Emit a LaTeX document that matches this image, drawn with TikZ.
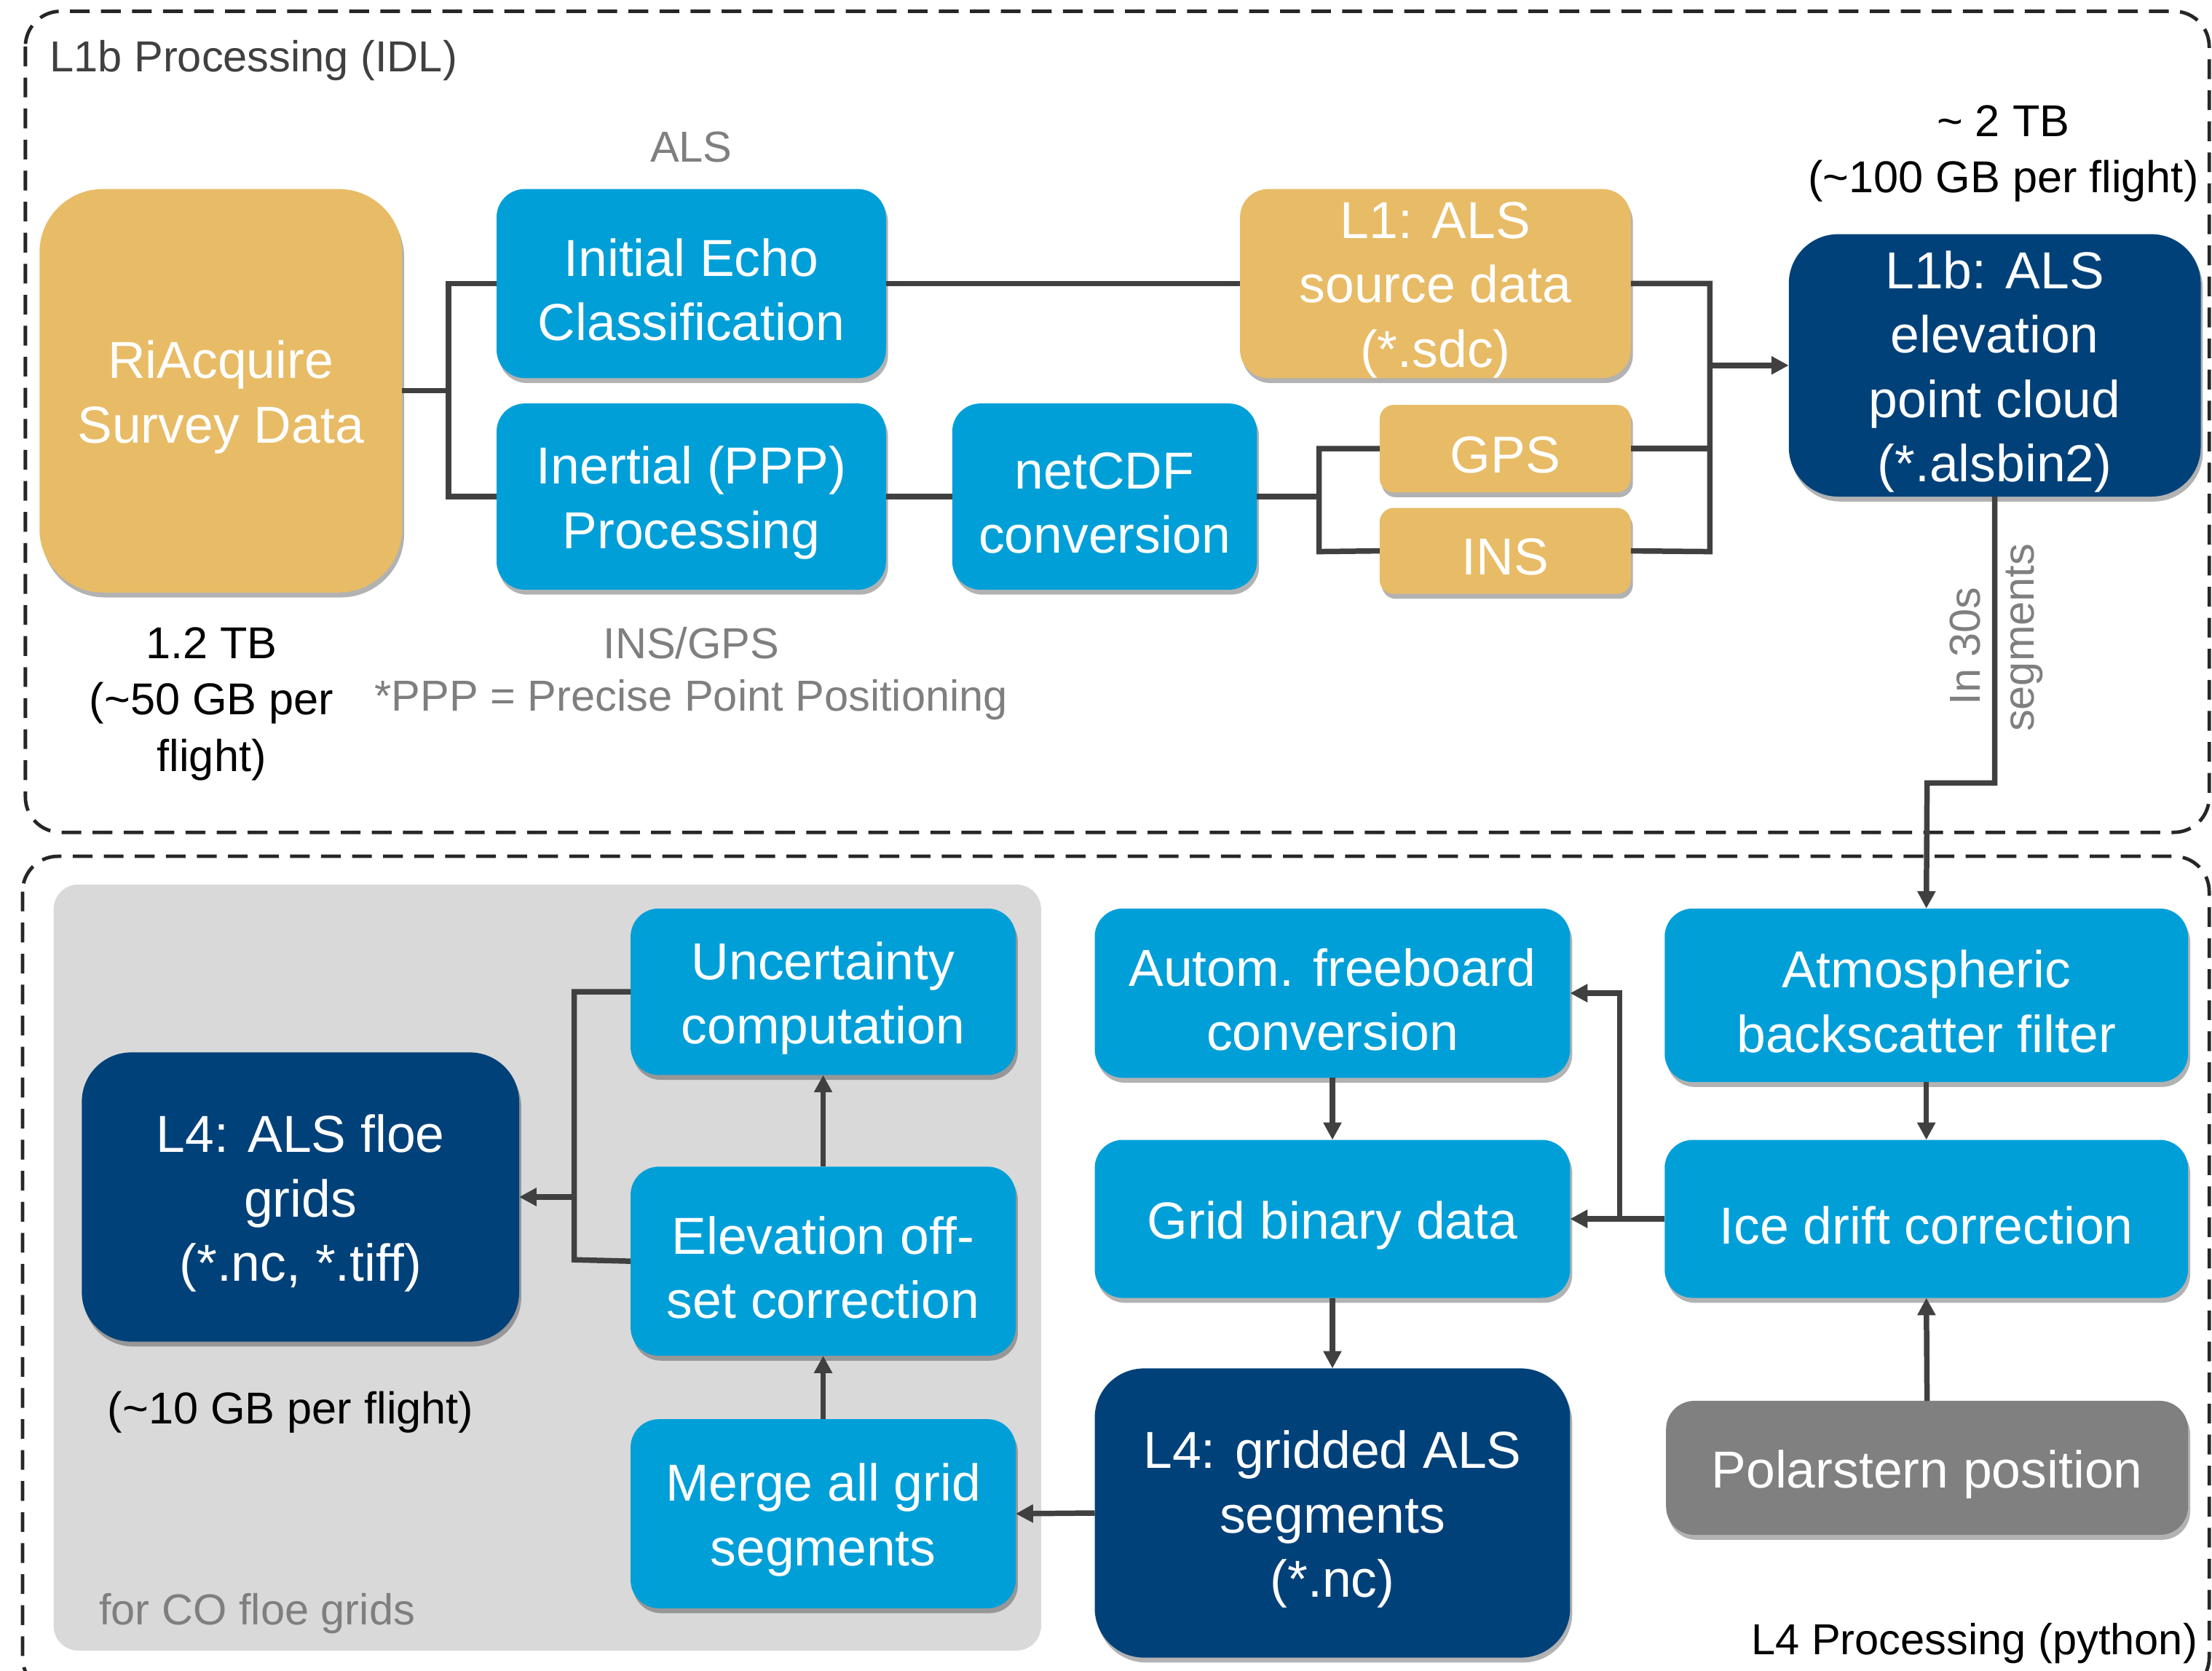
\documentclass[tikz,border=0pt]{standalone}
\usepackage{fontspec}
\setmainfont{Liberation Sans}
\usetikzlibrary{fit,shadows,arrows.meta,positioning}
\definecolor{gold}{HTML}{E8BB66}
\definecolor{bluebx}{HTML}{009FD8}
\definecolor{navy}{HTML}{004179}
\definecolor{graybx}{HTML}{808080}
\definecolor{bgray}{HTML}{D9D9D9}
\definecolor{linec}{HTML}{404040}
\definecolor{lblgray}{HTML}{7F7F7F}
\tikzset{
  shad/.style={drop shadow={shadow xshift=0.03cm,shadow yshift=-0.07cm,opacity=0.3,fill=black}},
  boxbase/.style={inner sep=0pt,outer sep=0pt,shad},
  bluebox/.style={boxbase,fill=bluebx,rounded corners=0.4cm},
  goldbox/.style={boxbase,fill=gold,rounded corners=0.4cm},
  navybox/.style={boxbase,fill=navy,rounded corners=0.7cm},
  graybox/.style={boxbase,fill=graybx,rounded corners=0.4cm},
  txtw/.style={text=white,align=center,font=\fontsize{21}{26}\selectfont,inner sep=0pt,yshift=-0.09cm},
  lbl/.style={align=center,font=\fontsize{18}{22.7}\selectfont,inner sep=0pt,text=black},
  glbl/.style={align=center,font=\fontsize{17.5}{22}\selectfont,inner sep=0pt,text=lblgray},
  conn/.style={draw=linec,line width=2.2pt},
  arr/.style={conn,-{Triangle[length=7pt,width=7pt]}},
  dashbox/.style={draw=black!85,line width=1.4pt,dash pattern=on 0.28cm off 0.16cm,rounded corners=0.5cm}
}
\begin{document}
\begin{tikzpicture}[x=0.02cm,y=-0.02cm]
\useasboundingbox (0,0) rectangle (1568,1184);
% frames
\draw[dashbox] (18,8) rectangle (1566,590);
\draw[dashbox] (16,607) rectangle (1566,1200);
\node[anchor=west,font=\fontsize{17.5}{22}\selectfont,text=linec,inner sep=0pt] (t1) at (35,43) {L1b Processing (IDL)};
\node[anchor=east,font=\fontsize{17.5}{22}\selectfont,text=black,inner sep=0pt] (t2) at (1558,1165) {L4 Processing (python)};
% gray background
\node[fit={(38,627) (738,1170)},fill=bgray,inner sep=0pt,rounded corners=0.35cm] (bg) {};
\node[glbl,anchor=west] (co) at (70,1144) {for CO floe grids};
% top boxes
\node[goldbox,fit={(28,134) (285,420)},rounded corners=0.9cm,label={[txtw]center:{RiAcquire\\Survey Data}}] (ra) {};
\node[bluebox,fit={(352,134) (628,268)},label={[txtw]center:{Initial Echo\\Classification}}] (ie) {};
\node[bluebox,fit={(352,286) (628,418)},label={[txtw]center:{Inertial (PPP)\\Processing}}] (ip) {};
\node[bluebox,fit={(675,286) (891,418)},label={[txtw]center:{netCDF\\conversion}}] (nc) {};
\node[goldbox,fit={(879,134) (1156,268)},label={[txtw]center:{L1: ALS\\source data\\(*.sdc)}}] (l1) {};
\node[goldbox,fit={(978,287) (1156,349)},rounded corners=0.2cm,label={[txtw]center:{GPS}}] (gps) {};
\node[goldbox,fit={(978,360) (1156,421)},rounded corners=0.2cm,label={[txtw]center:{INS}}] (ins) {};
\node[navybox,fit={(1268,166) (1560,352)},label={[txtw]center:{L1b: ALS\\elevation\\point cloud\\(*.alsbin2)}}] (l1b) {};
% top labels
\node[glbl] (als) at (490,104) {ALS};
\node[glbl] (insgps) at (490,456) {INS/GPS};
\node[glbl] (ppp) at (490,496) {*PPP = Precise Point Positioning};
\node[lbl] (tb2) at (1420,109) {\textasciitilde{} 2 TB\\(\textasciitilde100 GB per flight)};
\node[lbl] (tb1) at (150,499) {1.2 TB\\(\textasciitilde50 GB per\\flight)};
% top connectors
\coordinate (j1) at (318,352);
\coordinate (j2) at (935,391);
\coordinate (j3) at (1212,391);
\coordinate (j4) at (1366,555);
\draw[conn] (ie.west) -| (j1) -- (ip.west);
\draw[conn] (ra.east) -- (ra.east -| j1);
\draw[conn] (ie.east) -- (l1.west);
\draw[conn] (ip.east) -- (nc.west);
\draw[conn] (gps.west) -| (j2) -- (ins.west);
\draw[conn] (nc.east) -- (nc.east -| j2);
\draw[conn] (l1.east) -| (j3) -- (ins.east);
\draw[conn] (gps.east) -- (gps.east -| j3);
\draw[arr] (l1b.west -| j3) -- (l1b.west);
% bottom boxes
\node[bluebox,fit={(447,644) (720,762)},label={[txtw]center:{Uncertainty\\computation}}] (unc) {};
\node[bluebox,fit={(447,827) (720,961)},label={[txtw]center:{Elevation off-\\set correction}}] (eoc) {};
\node[bluebox,fit={(447,1006) (720,1140)},label={[txtw]center:{Merge all grid\\segments}}] (mrg) {};
\node[navybox,fit={(58,746) (368,951)},label={[txtw]center:{L4: ALS floe\\grids\\(*.nc, *.tiff)}}] (l4f) {};
\node[lbl] (gb10) at (206,1001) {(\textasciitilde10 GB per flight)};
\node[bluebox,fit={(776,644) (1113,764)},label={[txtw]center:{Autom. freeboard\\conversion}}] (afc) {};
\node[bluebox,fit={(776,808) (1113,920)},label={[txtw]center:{Grid binary data}}] (grd) {};
\node[navybox,fit={(776,970) (1113,1175)},label={[txtw]center:{L4: gridded ALS\\segments\\(*.nc)}}] (l4g) {};
\node[bluebox,fit={(1180,644) (1551,767)},label={[txtw]center:{Atmospheric\\backscatter filter}}] (atm) {};
\node[bluebox,fit={(1180,808) (1551,920)},label={[txtw]center:{Ice drift correction}}] (ice) {};
\node[graybox,fit={(1181,993) (1551,1088)},label={[txtw]center:{Polarstern position}}] (pol) {};
% vertical labels
\draw[arr] (l1b.south) |- (j4) -- (atm.north);
\node[glbl,rotate=90] (in30) at (1393,458) {In 30s};
\node[glbl,rotate=90] (seg) at (1435,452) {segments};
% bottom connectors
\coordinate (j5) at (1148,704);
\coordinate (j6) at (407,893);
\draw[arr] (atm.south) -- (ice.north);
\draw[arr] (pol.north) -- (ice.south);
\draw[arr] (ice.west) -- (grd.east);
\draw[arr] (ice.west -| j5) |- (afc.east);
\draw[arr] (afc.south) -- (grd.north);
\draw[arr] (grd.south) -- (l4g.north);
\draw[arr] (l4g.west) -- (mrg.east);
\draw[arr] (mrg.north) -- (eoc.south);
\draw[arr] (eoc.north) -- (unc.south);
\draw[conn] (unc.west) -| (j6) -- (eoc.west);
\draw[arr] (l4f.east -| j6) -- (l4f.east);
\end{tikzpicture}
\end{document}
